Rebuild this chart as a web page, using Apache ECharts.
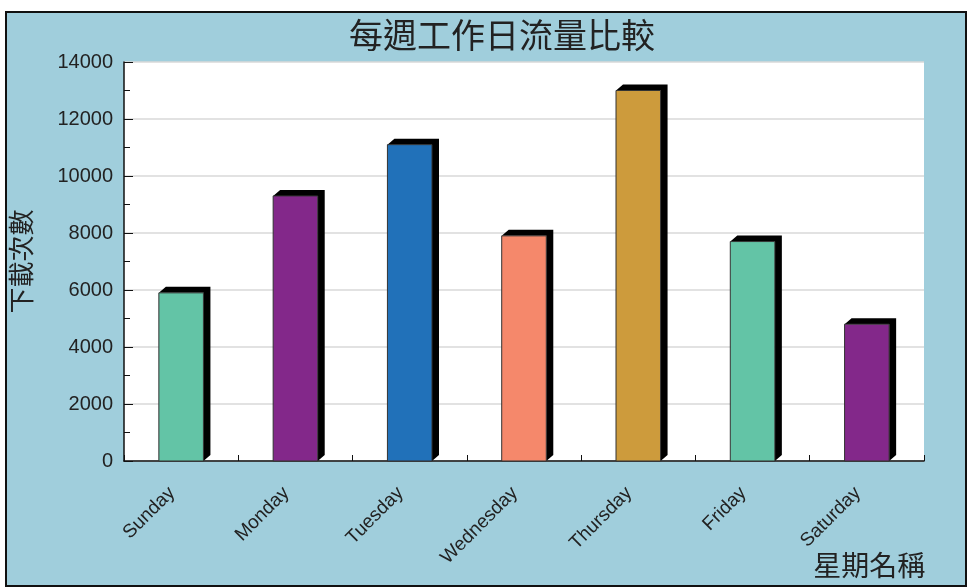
<!DOCTYPE html>
<html>
<head>
<meta charset="utf-8">
<script src="https://cdn.jsdelivr.net/npm/echarts@6/dist/echarts.min.js"></script>
<style>html,body{margin:0;padding:0;background:#fff}#c{width:968px;height:588px}</style>
</head>
<body>
<div id="c"></div>
<script>
const categories = ['Sunday','Monday','Tuesday','Wednesday','Thursday','Friday','Saturday'];
const downloads = [5900, 9300, 11100, 7900, 13000, 7700, 4800];
const barColors = ['#63c4a6','#83288a','#2171b9','#f5886b','#cd9b3c','#63c4a6','#83288a'];
const titleText = '每週工作日流量比較';
const yName = '下載次數';
const xName = '星期名稱';

const chart = echarts.init(document.getElementById('c'), null, {renderer:'canvas'});
const DX = 7, DY = 6;
chart.setOption({
  backgroundColor: '#ffffff',
  animation: false,
  graphic: [{
    type: 'rect', z: -100, silent: true,
    shape: {x: 6, y: 12, width: 960, height: 574},
    style: {fill: '#a0cedc', stroke: '#111', lineWidth: 2}
  }],
  title: {
    text: titleText, left: 497, top: 13, textAlign: 'center',
    textStyle: {fontFamily: 'Noto Sans CJK TC', fontSize: 34, fontWeight: 'normal', color: '#222'}
  },
  grid: {left: 124, right: 44, top: 62, bottom: 127, show: true, backgroundColor: '#ffffff', borderWidth: 0, z: 0},
  xAxis: {
    type: 'category', data: categories, boundaryGap: true,
    axisLine: {lineStyle: {color: '#111', width: 1.5}},
    axisTick: {show: true, inside: true, length: 6, lineStyle: {color: '#111'}},
    axisLabel: {rotate: 45, margin: 20, fontSize: 19, color: '#222', fontFamily: 'Liberation Sans', interval: 0, padding: [0, 13, 0, 0]},
    name: xName, nameLocation: 'end', nameGap: 0,
    nameTextStyle: {fontFamily: 'Noto Sans CJK TC', fontSize: 28, color: '#222', align: 'right', verticalAlign: 'top', padding: [90, 0, 0, 0]}
  },
  yAxis: {
    type: 'value', min: 0, max: 14000, interval: 2000,
    axisLine: {show: true, lineStyle: {color: '#111', width: 1.5}},
    axisTick: {show: true, inside: true, length: 9, lineStyle: {color: '#111'}},
    minorTick: {show: true, splitNumber: 2, length: 6, lineStyle: {color: '#111'}},
    splitLine: {show: true, lineStyle: {color: '#d9d9d9', width: 1.5}},
    axisLabel: {fontSize: 20, color: '#222', fontFamily: 'Liberation Sans', margin: 11, formatter: v => String(v)},
    name: yName, nameLocation: 'middle', nameRotate: 90, nameGap: 90,
    nameTextStyle: {fontFamily: 'Noto Sans CJK TC', fontSize: 26, color: '#222'}
  },
  series: [{
    type: 'custom',
    data: downloads.map((v, i) => [i, v]),
    encode: {x: 0, y: 1},
    z: 5,
    renderItem: function (params, api) {
      const i = api.value(0), v = api.value(1);
      const top = api.coord([i, v]);
      const base = api.coord([i, 0]);
      const bw = api.size([1, 0])[0] * 0.39;
      const x0 = top[0] - bw / 2, x1 = top[0] + bw / 2;
      const yT = top[1], yB = base[1];
      return {
        type: 'group',
        children: [
          {type: 'polygon', shape: {points: [[x0, yT], [x0 + DX, yT - DY], [x1 + DX, yT - DY], [x1 + DX, yB - DY], [x1, yB], [x1, yT]]},
           style: {fill: '#000'}},
          {type: 'rect', shape: {x: x0, y: yT, width: bw, height: yB - yT},
           style: {fill: barColors[i], stroke: '#333', lineWidth: 1}}
        ]
      };
    }
  }]
});
</script>
</body>
</html>
